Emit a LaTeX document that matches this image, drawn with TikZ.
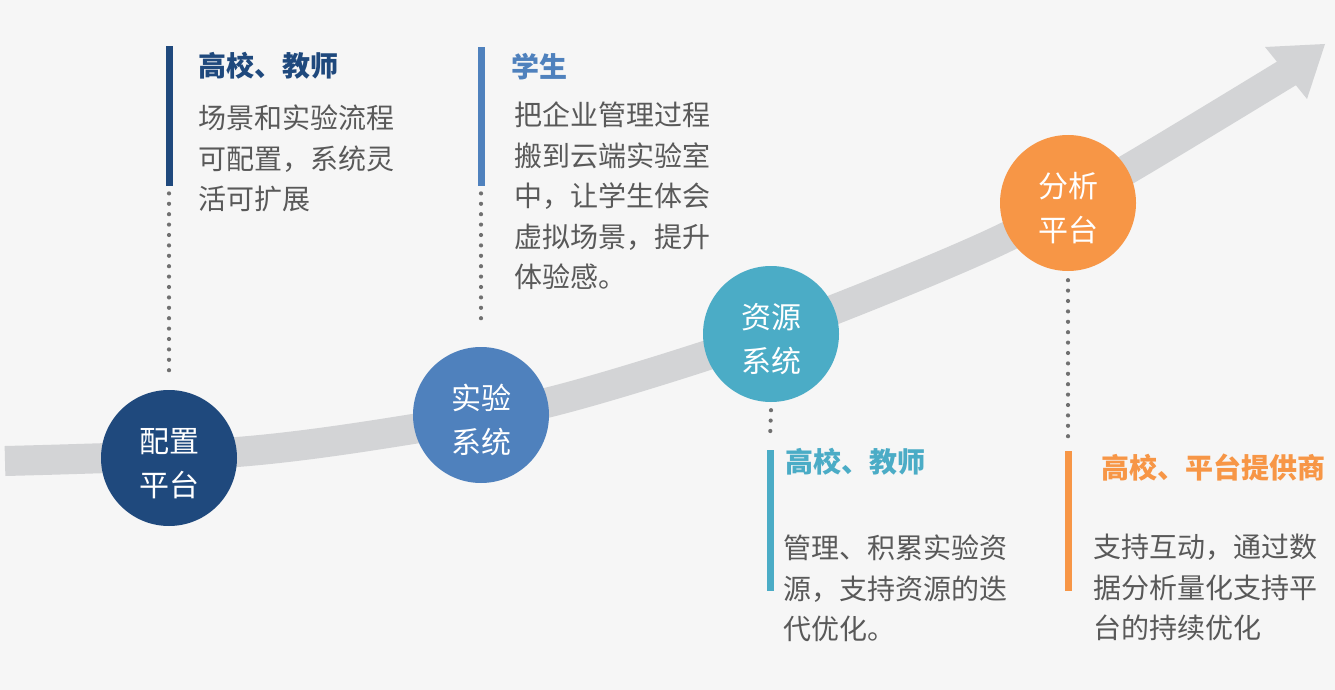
\documentclass[tikz,border=0pt]{standalone}
\usepackage{fontspec}
\newfontfamily\cjk{Noto Sans CJK SC}
\definecolor{bg}{HTML}{F6F6F6}
\definecolor{band}{HTML}{D3D4D6}
\definecolor{cA}{HTML}{1F497D}
\definecolor{cB}{HTML}{4F81BD}
\definecolor{cC}{HTML}{4BACC6}
\definecolor{cD}{HTML}{F79646}
\definecolor{txt}{HTML}{595959}
\definecolor{dotc}{HTML}{707070}
\newcommand{\toplift}{\rule{0pt}{35pt}}
\tikzset{
  stage/.style={circle, minimum size=136pt, inner sep=0pt, text=white, align=center,
    font=\cjk\fontsize{30}{44}\selectfont},
  barbox/.style={rectangle, minimum width=7pt, inner sep=0pt, anchor=north},
  ttl/.style={anchor=west, inner sep=0pt, font=\cjk\bfseries\fontsize{28}{40}\selectfont},
  body/.style={anchor=north west, inner sep=0pt, align=left, text=txt,
    font=\cjk\fontsize{28}{40.5}\selectfont},
  dotline/.style={draw=dotc, line width=4.2pt, line cap=round, dash pattern=on 0pt off 10.4pt}
}
\begin{document}
\begin{tikzpicture}[x=1pt,y=-1pt]
\fill[bg] (0,0) rectangle (1335,690);
\useasboundingbox (0,0) rectangle (1335,690);
% growth arrow
\draw[band, line width=30pt] plot[smooth, tension=0.55] coordinates
  {(5,461) (237,452) (413,429) (550,402) (705,356) (833,310) (1000,240) (1123,172) (1292,70)};
\fill[band] (1325,44) -- (1265,47) -- (1307,99) -- cycle;
% stages
\node[stage, fill=cA] (c1) at (169,458) {\toplift 配置\\平台};
\node[stage, fill=cB] (c2) at (481,415) {\toplift 实验\\系统};
\node[stage, fill=cC] (c3) at (771,334) {\toplift 资源\\系统};
\node[stage, fill=cD] (c4) at (1068,203) {\toplift 分析\\平台};
% bars
\node[barbox, fill=cA, minimum height=140pt] (b1) at (169,46) {};
\node[barbox, fill=cB, minimum height=139pt] (b2) at (481,47) {};
\node[barbox, fill=cC, minimum height=141pt] (b3) at (770,450) {};
\node[barbox, fill=cD, minimum height=140pt] (b4) at (1068,451) {};
% dotted connectors
\draw[dotline] ([yshift=-7pt]b1.south) -- ([yshift=18pt]c1.north);
\draw[dotline] ([yshift=-7pt]b2.south) -- ([yshift=20pt]c2.north);
\draw[dotline] ([yshift=-8pt]c3.south) -- ([yshift=10pt]b3.north);
\draw[dotline] ([yshift=-9pt]c4.south) -- ([yshift=12pt]b4.north);
% texts
\node[ttl, text=cA] (t1) at (198,66) {高校、教师};
\node[body] (d1) at (198,105) {场景和实验流程\\可配置，系统灵\\活可扩展};
\node[ttl, text=cB] (t2) at (511,67) {学生};
\node[body] (d2) at (514,102) {把企业管理过程\\搬到云端实验室\\中，让学生体会\\虚拟场景，提升\\体验感。};
\node[ttl, text=cC] (t3) at (785,462) {高校、教师};
\node[body] (d3) at (783,535) {管理、积累实验资\\源，支持资源的迭\\代优化。};
\node[ttl, text=cD] (t4) at (1101,468) {高校、平台提供商};
\node[body] (d4) at (1093,534) {支持互动，通过数\\据分析量化支持平\\台的持续优化};
\end{tikzpicture}
\end{document}
